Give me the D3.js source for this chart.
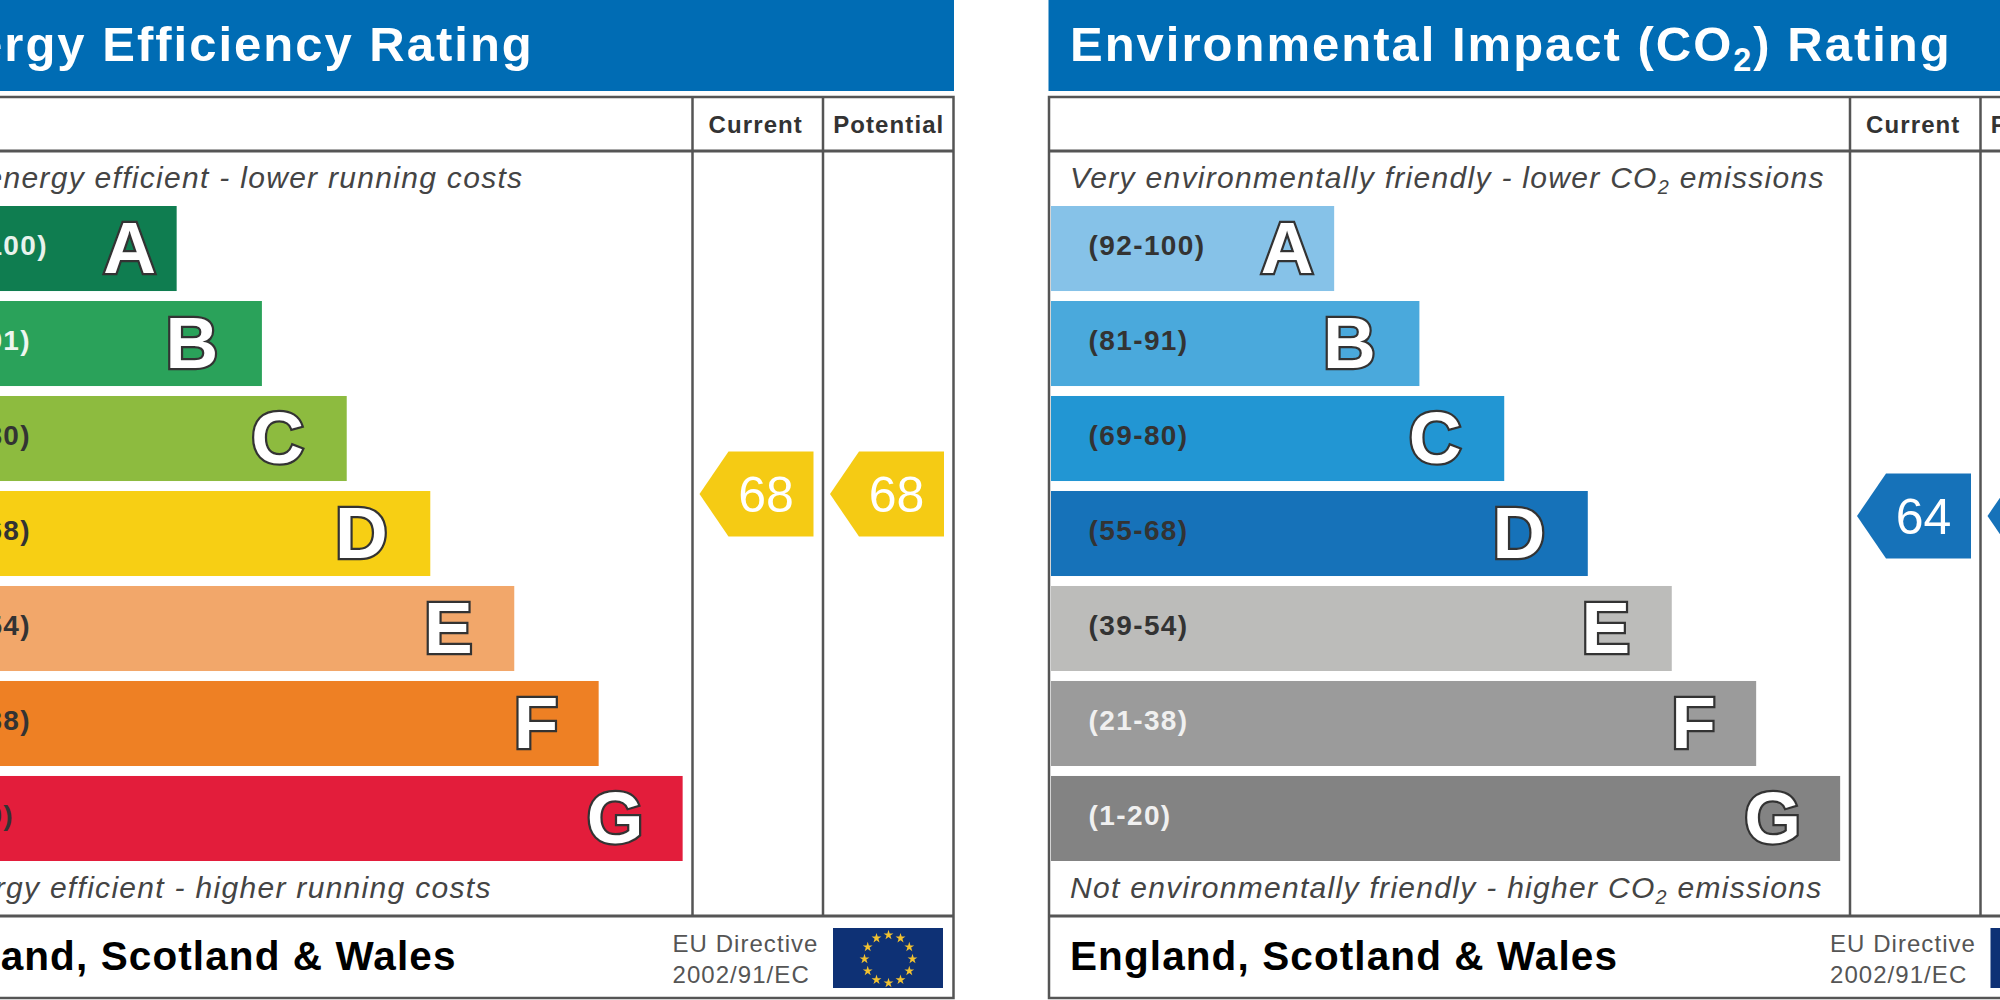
<!DOCTYPE html>
<html>
<head>
<meta charset="utf-8">
<script src="https://cdn.jsdelivr.net/npm/d3@7"></script>
<style>
  html, body { margin: 0; padding: 0; background: #fff; }
  svg { display: block; }
  text { font-family: "Liberation Sans", Arial, sans-serif; }
</style>
</head>
<body>
<div id="chart"></div>
<script>
//============================================================
// Data
//------------------------------------------------------------
var bandLetters = ['A', 'B', 'C', 'D', 'E', 'F', 'G'];
var bandRanges = ['(92-100)', '(81-91)', '(69-80)', '(55-68)', '(39-54)', '(21-38)', '(1-20)'];
var barLengths = [33.55, 43.65, 53.7, 63.6, 73.55, 83.55, 93.5];

var efficiencyColors = ['#0f7d50', '#2aa25a', '#8dbb3f', '#f7cf14', '#f2a76a', '#ee8024', '#e31d3b'];
var impactColors = ['#86c2e8', '#4aa9dc', '#2296d3', '#1672b9', '#bcbcba', '#9b9b9b', '#838383'];
var efficiencyRangeInk = ['#e8f2ec', '#eef6f0', '#333', '#333', '#333', '#333', '#333'];
var impactRangeInk = ['#333', '#333', '#333', '#333', '#333', '#f0f0f0', '#f0f0f0'];

var efficiencyRatings = [68, 68];
var impactRatings = [64, 64];
var ratingColumns = ['Current', 'Potential'];

//============================================================
// Layout
//------------------------------------------------------------
var width = 2000, height = 1000;
var panelWidth = 1063;
var letterInset = [47, 70, 69, 69, 66, 62.5, 67.5];
var columnLabelNudge = [-2.5, 0];
var ink = '#555';

var x = d3.scaleLinear().domain([0, 100]).range([2.5, 846.5]);
var y = d3.scaleBand().domain(bandLetters).range([206, 861]).paddingInner(0.105);
var ratingY = d3.scaleLinear().domain([100, 0]).range([318, 868]);
var columnX = d3.scaleBand().domain(ratingColumns).range([801.5, 1062.5]);

var svg = d3.select('#chart').append('svg')
    .attr('width', width)
    .attr('height', height);

// writes "CO2" with a lowered 2, the rest goes through as is
function addSubscript(text, str, size) {
  str.split('CO2').forEach(function (part, i) {
    if (i > 0) {
      text.append('tspan').text('CO');
      text.append('tspan').attr('dy', size * 0.2).style('font-size', (size * 0.66) + 'px').text('2');
      text.append('tspan').attr('dy', -size * 0.2).text(part);
    } else {
      text.append('tspan').text(part);
    }
  });
}

function drawPanel(offset, opts) {
  var g = svg.append('g').attr('transform', 'translate(' + offset + ',0)');

  // header
  g.append('rect')
      .attr('x', 0).attr('y', 0)
      .attr('width', panelWidth).attr('height', 91)
      .attr('fill', '#006cb4');
  var title = g.append('text')
      .attr('x', opts.textX).attr('y', 61)
      .attr('fill', '#fff')
      .style('font-size', '49px')
      .style('font-weight', 'bold')
      .style('letter-spacing', '2px');
  addSubscript(title, opts.title, 49);

  // frame
  g.append('rect')
      .attr('x', 0.5).attr('y', 97)
      .attr('width', panelWidth - 1).attr('height', 901)
      .attr('fill', 'none')
      .attr('stroke', ink)
      .attr('stroke-width', 2.5);
  [151, 916].forEach(function (ly) {
    g.append('line')
        .attr('x1', 0).attr('x2', panelWidth)
        .attr('y1', ly).attr('y2', ly)
        .attr('stroke', ink)
        .attr('stroke-width', 3);
  });
  ratingColumns.forEach(function (c, i) {
    g.append('line')
        .attr('x1', columnX(c)).attr('x2', columnX(c))
        .attr('y1', 97).attr('y2', 916)
        .attr('stroke', ink)
        .attr('stroke-width', 2.5);
    g.append('text')
        .attr('x', columnX(c) + columnX.bandwidth() / 2 + 0.5 + columnLabelNudge[i])
        .attr('y', 133)
        .attr('text-anchor', 'middle')
        .attr('fill', '#333')
        .style('font-size', '24px')
        .style('font-weight', 'bold')
        .style('letter-spacing', '1.1px')
        .text(c);
  });

  // top and bottom captions
  var top = g.append('text')
      .attr('x', opts.topCaptionX).attr('y', 188)
      .attr('fill', '#444')
      .style('font-size', '30px')
      .style('font-style', 'italic')
      .style('letter-spacing', '1.3px');
  addSubscript(top, opts.topCaption, 30);
  var bottom = g.append('text')
      .attr('x', opts.bottomCaptionX).attr('y', 898)
      .attr('fill', '#444')
      .style('font-size', '30px')
      .style('font-style', 'italic')
      .style('letter-spacing', '1.3px');
  addSubscript(bottom, opts.bottomCaption, 30);

  // bars
  var band = g.selectAll('g.band')
      .data(bandLetters)
    .enter().append('g')
      .attr('class', 'band');
  band.append('rect')
      .attr('x', x(0))
      .attr('y', function (d) { return y(d); })
      .attr('width', function (d, i) { return x(barLengths[i]) - x(0); })
      .attr('height', y.bandwidth())
      .attr('fill', function (d, i) { return opts.colors[i]; });
  band.append('text')
      .attr('x', 40)
      .attr('y', function (d) { return y(d) + y.bandwidth() / 2 + 6.5; })
      .attr('fill', function (d, i) { return opts.rangeInk[i]; })
      .style('font-size', '28px')
      .style('font-weight', 'bold')
      .style('letter-spacing', '1.4px')
      .text(function (d, i) { return bandRanges[i]; });
  band.append('text')
      .attr('x', function (d, i) { return x(barLengths[i]) - letterInset[i]; })
      .attr('y', function (d) { return y(d) + 67; })
      .attr('text-anchor', 'middle')
      .attr('fill', '#fff')
      .attr('stroke', '#333')
      .attr('stroke-width', 4.5)
      .style('paint-order', 'stroke')
      .style('font-size', '73px')
      .style('font-weight', 'bold')
      .text(function (d) { return d; });

  // rating arrows, one per column
  ratingColumns.forEach(function (c, i) {
    var rating = opts.ratings[i];
    var cx = columnX(c);
    var cy = ratingY(rating);
    var pts = [
      [cx + 7, cy],
      [cx + 36, cy - 42.5],
      [cx + 121, cy - 42.5],
      [cx + 121, cy + 42.5],
      [cx + 36, cy + 42.5]
    ];
    g.append('polygon')
        .attr('points', pts.map(function (p) { return p.join(','); }).join(' '))
        .attr('fill', opts.arrow);
    g.append('text')
        .attr('x', cx + 73.5)
        .attr('y', cy + 18)
        .attr('text-anchor', 'middle')
        .attr('fill', '#fff')
        .style('font-size', '50px')
        .text(rating);
  });

  // footer
  g.append('text')
      .attr('x', opts.textX).attr('y', 970)
      .attr('fill', '#000')
      .style('font-size', '40.5px')
      .style('font-weight', 'bold')
      .style('letter-spacing', '1.1px')
      .text('England, Scotland & Wales');
  ['EU Directive', '2002/91/EC'].forEach(function (line, i) {
    g.append('text')
        .attr('x', 781.5)
        .attr('y', 952 + i * 30.5)
        .attr('fill', '#555')
        .style('font-size', '24px')
        .style('letter-spacing', '1.05px')
        .text(line);
  });

  // EU flag
  var flag = g.append('g').attr('transform', 'translate(942,928)');
  flag.append('rect')
      .attr('width', 110).attr('height', 60)
      .attr('fill', '#0e3175');
  var star = d3.symbol().type(d3.symbolStar).size(30);
  var starAngle = d3.scaleLinear().domain([0, 12]).range([0, 2 * Math.PI]);
  flag.selectAll('path')
      .data(d3.range(12))
    .enter().append('path')
      .attr('d', star)
      .attr('fill', '#f2c230')
      .attr('transform', function (d) {
        var a = starAngle(d);
        return 'translate(' + (55.5 + 24 * Math.sin(a)) + ',' + (31 - 24 * Math.cos(a)) + ')';
      });
}

drawPanel(-109, {
  title: 'Energy Efficiency Rating',
  topCaption: 'Very energy efficient - lower running costs',
  bottomCaption: 'Not energy efficient - higher running costs',
  textX: 17.5,
  topCaptionX: 19,
  bottomCaptionX: -10.5,
  colors: efficiencyColors,
  rangeInk: efficiencyRangeInk,
  ratings: efficiencyRatings,
  arrow: '#f5cb14'
});

drawPanel(1048.5, {
  title: 'Environmental Impact (CO2) Rating',
  topCaption: 'Very environmentally friendly - lower CO2 emissions',
  bottomCaption: 'Not environmentally friendly - higher CO2 emissions',
  textX: 21.5,
  topCaptionX: 21.5,
  bottomCaptionX: 21.5,
  colors: impactColors,
  rangeInk: impactRangeInk,
  ratings: impactRatings,
  arrow: '#1672b9'
});
</script>
</body>
</html>
